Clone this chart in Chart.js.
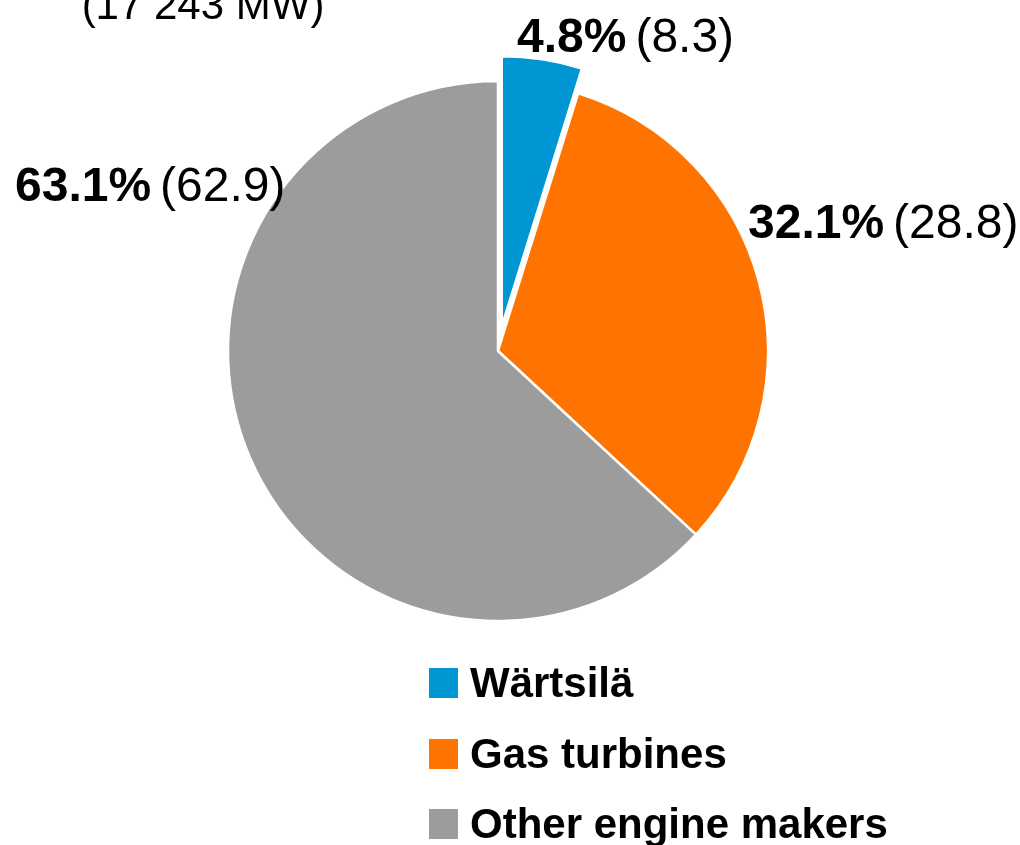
<!DOCTYPE html>
<html>
<head>
<meta charset="utf-8">
<script src="https://cdn.jsdelivr.net/npm/chart.js@4.4.1/dist/chart.umd.min.js"></script>
<style>
  html, body { margin: 0; padding: 0; background: #ffffff; }
  #wrap { position: relative; width: 1020px; height: 845px; overflow: hidden; }
  #wrap canvas { position: absolute; left: 0; top: 0; }
  #legend { position: absolute; left: 429px; top: 648px; margin: 0; padding: 0; list-style: none;
            font-family: "Liberation Sans", Arial, sans-serif; font-weight: bold; font-size: 42px; color: #000; }
  #legend li { display: flex; align-items: center; height: 70.5px; white-space: nowrap; }
  #legend .box { display: inline-block; width: 29px; height: 30px; margin-right: 12px; }
</style>
</head>
<body>
<div id="wrap">
  <canvas id="c" width="1020" height="845"></canvas>
  <ul id="legend"></ul>
</div>
<script>
// ---- data ----
const categories = ["Wärtsilä", "Gas turbines", "Other engine makers"];
const shares = [4.8, 32.1, 63.1];           // current share, %
const previousShares = [8.3, 28.8, 62.9];   // previous year, shown in brackets
const totalLabel = "(17 243 MW)";
const colors = ["#0096d3", "#ff7300", "#9c9c9c"];

// ---- label placement (offsets from pie centre, px) ----
const labelOffsets = [
  { dx: 19, dy: -299 },
  { dx: 250, dy: -113 },
  { dx: -483, dy: -150 }
];
const FONT = '"Liberation Sans", Arial, sans-serif';

// keep an exploded slice at the same radius and angle (pure translation)
const explodeFix = {
  id: 'explodeFix',
  afterDatasetUpdate(chart, args) {
    const meta = chart.getDatasetMeta(args.index);
    meta.data.forEach(arc => {
      const o = (arc.options && arc.options.offset) || 0;
      if (o) {
        const fix = 1 - Math.sin(Math.min(Math.PI, arc.circumference || 0));
        const rOff = (o / 4) * fix;
        const R = arc.outerRadius;
        arc.outerRadius = R - rOff;
        const da = rOff / (2 * Math.PI * R);
        arc.startAngle -= da;
        arc.endAngle += da;
      }
    });
  }
};

const labelPlugin = {
  id: 'sliceLabels',
  afterDatasetsDraw(chart) {
    const ctx = chart.ctx;
    const meta = chart.getDatasetMeta(0);
    const ref = meta.data[2];
    const cx = ref.x, cy = ref.y;
    ctx.save();
    ctx.fillStyle = '#000';
    ctx.textBaseline = 'alphabetic';
    ctx.textAlign = 'left';
    meta.data.forEach((arc, i) => {
      const o = labelOffsets[i];
      const x = cx + o.dx, y = cy + o.dy;
      const pct = shares[i].toFixed(1) + '%';
      ctx.font = 'bold 48px ' + FONT;
      ctx.fillText(pct, x, y);
      const w = ctx.measureText(pct).width;
      ctx.font = '48px ' + FONT;
      ctx.fillText('(' + previousShares[i].toFixed(1) + ')', x + w + 9, y);
    });
    // total capacity caption (top left, partly cut off)
    ctx.font = '42px ' + FONT;
    ctx.textAlign = 'center';
    ctx.fillText(totalLabel, cx - 295, cy - 332);
    ctx.restore();
  }
};

new Chart(document.getElementById('c'), {
  type: 'pie',
  data: {
    labels: categories,
    datasets: [{
      data: shares,
      backgroundColor: colors,
      borderColor: '#ffffff',
      borderWidth: 2.5,
      offset: [100, 0, 0],
      hoverOffset: 0,
      radius: 270
    }]
  },
  options: {
    responsive: false,
    animation: false,
    events: [],
    layout: { padding: { left: 0, right: 24, top: 0, bottom: 143 } },
    plugins: {
      legend: { display: false },
      tooltip: { enabled: false },
      title: { display: false }
    }
  },
  plugins: [explodeFix, labelPlugin]
});

// HTML legend built from the same arrays
const legend = document.getElementById('legend');
categories.forEach((name, i) => {
  const li = document.createElement('li');
  const box = document.createElement('span');
  box.className = 'box';
  box.style.background = colors[i];
  li.appendChild(box);
  li.appendChild(document.createTextNode(name));
  legend.appendChild(li);
});
</script>
</body>
</html>
